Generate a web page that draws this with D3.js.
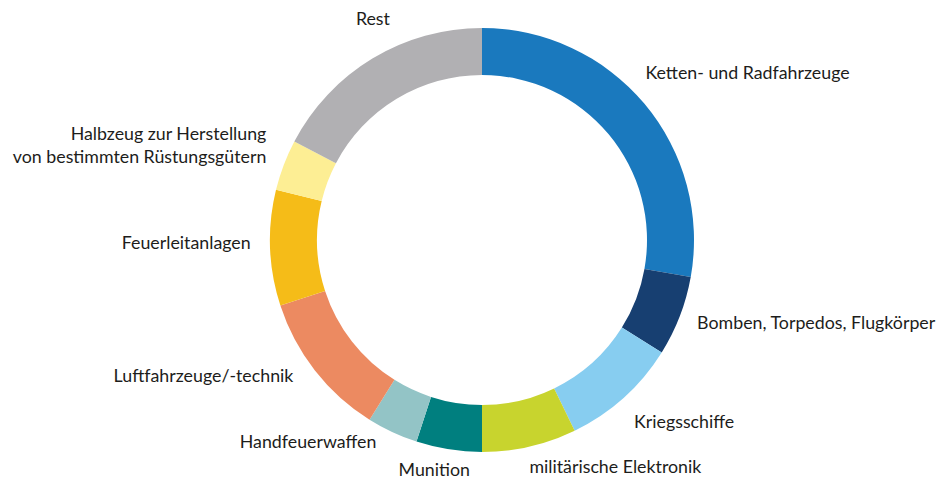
<!DOCTYPE html>
<html>
<head>
<meta charset="utf-8">
<script src="https://cdn.jsdelivr.net/npm/d3@7"></script>
<style>
  body { margin: 0; background: #fff; }
  text { font-family: Lato, "Open Sans", sans-serif; fill: #1d1d1b; }
</style>
</head>
<body>
<script>
var w = 939;
var h = 481;

// shares in percent, clockwise from 12 o'clock
var categories = ["Ketten- und Radfahrzeuge", "Bomben, Torpedos, Flugkörper", "Kriegsschiffe",
  "militärische Elektronik", "Munition", "Handfeuerwaffen", "Luftfahrzeuge/-technik",
  "Feuerleitanlagen", "Halbzeug zur Herstellung|von bestimmten Rüstungsgütern", "Rest"];
var values = [27.8, 6.1, 8.9, 7.2, 5.0, 3.9, 11.1, 8.8, 3.9, 17.3];
var colors = ["#1a79be", "#173f71", "#87cdf0", "#c8d42e", "#007f7f",
  "#93c4c6", "#ec8a61", "#f5bc18", "#fdee94", "#b1b0b3"];

// label placement: anchor + nudge from the arc point
var labelPos = [
  ["start", -19, -8], ["start", -7, 3], ["start", -7, 11], ["start", -6, 1.5],
  ["middle", -10.5, 1], ["end", -5, -8], ["end", -1, -4], ["end", 6.5, 0],
  ["end", 7, -16], ["middle", 14, -11]
];

var cx = 482, cy = 240;
var outerR = 212, innerR = 165, labelR = 238;

var svg = d3.select("body")
  .append("svg")
  .attr("width", w)
  .attr("height", h);

var g = svg.append("g")
  .attr("transform", "translate(" + cx + "," + cy + ")");

var pie = d3.pie().sort(null).value(d => d);
var arcs = pie(values);

var arc = d3.arc()
  .innerRadius(innerR)
  .outerRadius(outerR);

g.selectAll("path")
  .data(arcs)
  .enter()
  .append("path")
  .attr("d", arc)
  .attr("fill", (d, i) => colors[i]);

var labels = g.selectAll("text")
  .data(arcs)
  .enter()
  .append("text")
  .style("font-size", "17.8px")
  .attr("text-anchor", (d, i) => labelPos[i][0])
  .attr("transform", function (d, i) {
    var a = (d.startAngle + d.endAngle) / 2;
    var x = Math.sin(a) * labelR + labelPos[i][1];
    var y = -Math.cos(a) * labelR + labelPos[i][2];
    return "translate(" + x + "," + y + ")";
  });

labels.each(function (d, i) {
  var lines = categories[i].split("|");
  var t = d3.select(this);
  lines.forEach((l, j) => {
    t.append("tspan").attr("x", 0).attr("y", j * 22.7).text(l);
  });
});
</script>
</body>
</html>
